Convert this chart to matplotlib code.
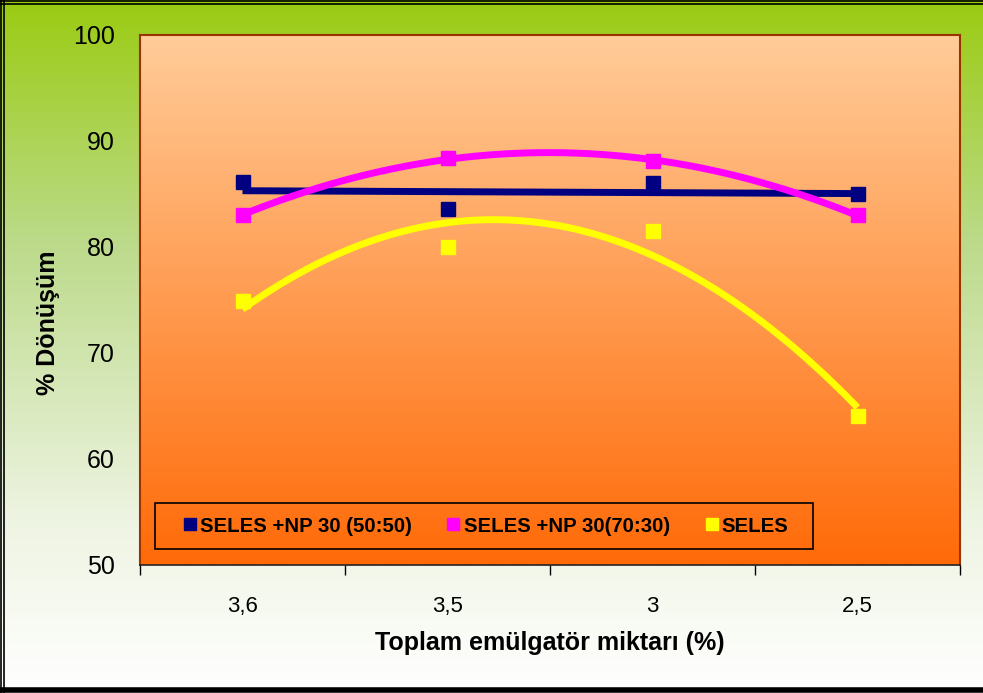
import numpy as np
import matplotlib
matplotlib.use("Agg")
import matplotlib.pyplot as plt
from matplotlib.lines import Line2D
from matplotlib.patches import Rectangle
from matplotlib.colors import LinearSegmentedColormap

plt.rcParams['font.family'] = ['Liberation Sans', 'DejaVu Sans']

# data
categories = ["3,6", "3,5", "3", "2,5"]
seles_np_5050 = [86.1, 83.6, 86.0, 85.0]
seles_np_7030 = [83.0, 88.4, 88.1, 83.0]
seles = [74.9, 80.0, 81.5, 64.1]
labels = ["SELES +NP 30 (50:50)", "SELES +NP 30(70:30)", "SELES"]
colors = ["#000080", "#FF00FF", "#FFFF00"]
fit_order = [1, 2, 2]   # trend line type for each series

W, H = 983, 693
fig = plt.figure(figsize=(W / 100, H / 100), dpi=100)

# outer background: green at top fading to white
bg = fig.add_axes([0, 0, 1, 1])
bg_cmap = LinearSegmentedColormap.from_list(
    "bg", [(0.0, "#9BCB12"), (0.35, "#BCDA8A"), (0.75, "#EEF4E2"), (1.0, "#FFFFFF")])
bg.imshow(np.linspace(0, 1, 256).reshape(-1, 1), cmap=bg_cmap, aspect="auto",
          extent=[0, 1, 0, 1])
bg.set_xlim(0, 1)
bg.set_ylim(0, 1)
bg.axis("off")

# frame lines round the picture
for y in [1 - 0.5 / H, 1 - 3.5 / H]:
    fig.add_artist(Line2D([0, 1], [y, y], color="black", lw=1.2, transform=fig.transFigure))
for x in [0.8 / W, 4 / W]:
    fig.add_artist(Line2D([x, x], [0, 1], color="black", lw=1.2, transform=fig.transFigure))
fig.add_artist(Line2D([0, 1], [3 / H, 3 / H], color="black", lw=4, transform=fig.transFigure))

# plot area, peach at top to orange at bottom
ax = fig.add_axes([140 / W, (H - 565) / H, 820 / W, 530 / H])
pa_cmap = LinearSegmentedColormap.from_list("pa", ["#FF6A08", "#FFCC99"])
ax.imshow(np.linspace(1, 0, 256).reshape(-1, 1), cmap=pa_cmap,
          aspect="auto", extent=[-0.5, 3.5, 50, 100], zorder=0)

x = np.arange(len(categories))
xs = np.linspace(x[0], x[-1], 200)
series = [seles_np_5050, seles_np_7030, seles]
for vals, c, k in zip(series, colors, fit_order):
    coef = np.polyfit(x, vals, k)
    ax.plot(xs, np.polyval(coef, xs), color=c, lw=5, zorder=3, solid_capstyle="butt")
for vals, c in zip(series, colors):
    ax.plot(x, vals, ls="none", marker="s", ms=9.5, color=c, zorder=2)

ax.set_xlim(-0.5, 3.5)
ax.set_ylim(50, 100)
ax.set_yticks([50, 60, 70, 80, 90, 100])
ax.tick_params(axis="y", length=0, pad=18, labelsize=18)
ax.set_xticks(x)
ax.set_xticklabels(categories)
ax.set_xticks(np.arange(-0.5, 4, 1), minor=True)
ax.tick_params(axis="x", which="major", length=0, pad=22, labelsize=16)
ax.tick_params(axis="x", which="minor", length=7, width=1, direction="out")

for s in ["top", "right", "left"]:
    ax.spines[s].set_color("#993300")
    ax.spines[s].set_linewidth(1.5)
ax.spines["bottom"].set_color("#222222")
ax.spines["bottom"].set_linewidth(1.2)

fig.text(550 / W, 1 - 643 / H, "Toplam emülgatör miktarı (%)", fontsize=18,
         fontweight="bold", ha="center", va="center")
fig.text(48 / W, 1 - 323 / H, "% Dönüşüm", rotation=90, fontsize=18,
         fontweight="bold", ha="center", va="center")

# legend box drawn separately, entries centred in it
ax.add_patch(Rectangle((15 / 820, 16 / 530), 658 / 820, 46 / 530, transform=ax.transAxes,
                       fill=False, edgecolor="black", lw=1.2, zorder=4))
handles = [Line2D([], [], ls="none", marker="s", ms=9, color=c) for c in colors]
ax.legend(handles, labels, ncol=3, loc="center",
          bbox_to_anchor=(346 / 820, 39 / 530),
          prop={"size": 14.7, "weight": "bold"}, handlelength=0.6, handletextpad=0.2,
          borderaxespad=0, frameon=False, borderpad=0, columnspacing=1.75)

fig.savefig("out.png", dpi=100)
